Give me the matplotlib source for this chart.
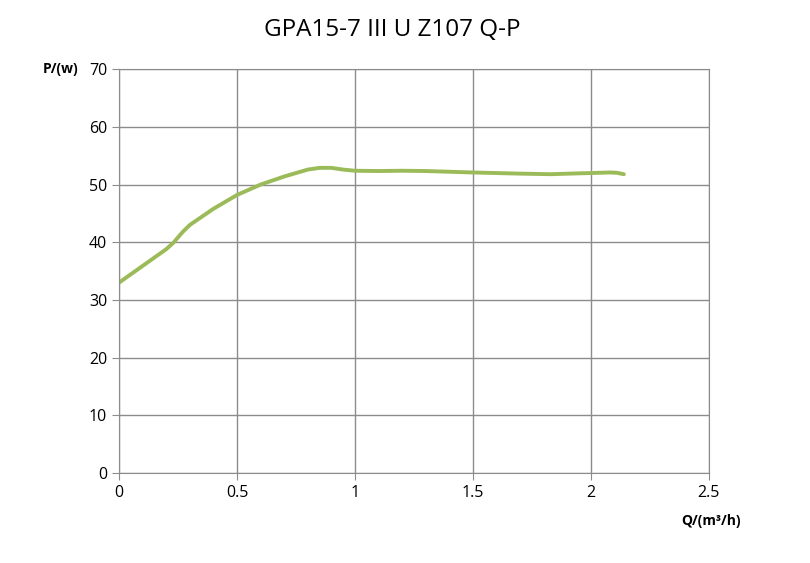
import matplotlib

matplotlib.use("Agg")
import matplotlib.pyplot as plt

plt.rcParams["font.family"] = ["Open Sans", "DejaVu Sans"]

q = [0.0, 0.1, 0.2, 0.23, 0.27, 0.3, 0.4, 0.5, 0.6, 0.7, 0.8, 0.85, 0.9,
     0.95, 1.0, 1.1, 1.2, 1.3, 1.5, 1.7, 1.83, 1.95, 2.0, 2.08, 2.11, 2.14]
p = [33.0, 35.9, 38.8, 39.9, 41.8, 43.0, 45.8, 48.2, 50.0, 51.4, 52.6, 52.9, 52.9,
     52.6, 52.4, 52.35, 52.4, 52.35, 52.1, 51.9, 51.8, 51.95, 52.0, 52.1, 52.05, 51.8]

xticks = [0, 0.5, 1, 1.5, 2, 2.5]
xtick_labels = ["0", "0.5", "1", "1.5", "2", "2.5"]
yticks = [0, 10, 20, 30, 40, 50, 60, 70]

fig = plt.figure(figsize=(8.1, 5.63), dpi=100)
ax = fig.add_axes([0.147, 0.16, 0.728, 0.717])

ax.plot(q, p, color="#9BBB59", linewidth=2.8, solid_capstyle="round", solid_joinstyle="round")

ax.set_xlim(0, 2.5)
ax.set_ylim(0, 70)
ax.set_xticks(xticks)
ax.set_xticklabels(xtick_labels)
ax.set_yticks(yticks)
ax.grid(True, color="#8c8c8c", linewidth=1)
ax.set_axisbelow(True)
for s in ax.spines.values():
    s.set_color("#8c8c8c")
ax.tick_params(colors="#8c8c8c", labelcolor="black", labelsize=11.5, length=5)

fig.suptitle("GPA15-7 III U Z107 Q-P", x=0.484, y=0.968, fontsize=17.5)
fig.text(0.097, 0.877, "P/(w)", ha="right", va="center", fontsize=10, fontweight="bold")
fig.text(0.878, 0.075, "Q/(m³/h)", ha="center", va="center", fontsize=10, fontweight="bold")

plt.savefig("out.png", dpi=100)
plt.close()
